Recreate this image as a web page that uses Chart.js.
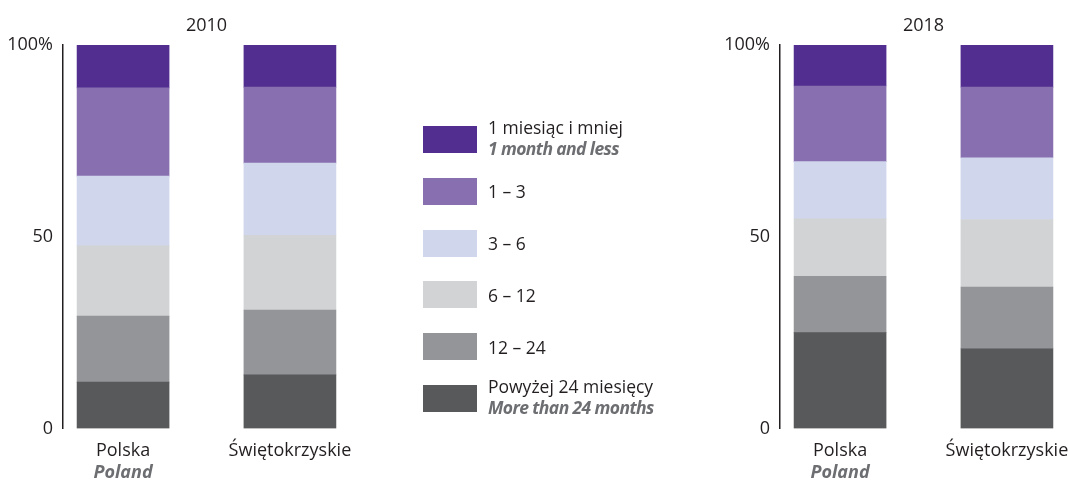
<!DOCTYPE html>
<html>
<head>
<meta charset="utf-8">
<script src="https://cdn.jsdelivr.net/npm/chart.js@4/dist/chart.umd.min.js"></script>
<style>
  html, body { margin: 0; padding: 0; background: #ffffff; }
  body { width: 1068px; height: 480px; position: relative; overflow: hidden; font-family: "Open Sans", sans-serif; }
  .chartbox { position: absolute; top: 0; height: 480px; }
  #legend { position: absolute; left: 423px; top: 126px; }
  .item { position: absolute; left: 0; width: 300px; height: 27px; }
  .swatch { position: absolute; left: 0; top: 0; width: 54px; height: 27px; }
  .txt { position: absolute; left: 65px; top: 50%; transform: translateY(-50%); font-size: 17.5px; line-height: 21px; color: #231f20; white-space: nowrap; }
  .txt i { display: block; font-style: italic; font-weight: 700; color: #6d6e71; letter-spacing: -0.6px; }
</style>
</head>
<body>
<div class="chartbox" style="left:0px;width:380px"><canvas id="c2010" width="380" height="480"></canvas></div>
<div class="chartbox" style="left:717px;width:351px"><canvas id="c2018" width="351" height="480"></canvas></div>
<div id="legend"></div>
<script>
// ---- data (shares in %, listed from top segment to bottom segment) ----
const periodsPl = ['1 miesiąc i mniej', '1 – 3', '3 – 6', '6 – 12', '12 – 24', 'Powyżej 24 miesięcy'];
const periodsEn = ['1 month and less', '', '', '', '', 'More than 24 months'];
const periodColors = ['#522e91', '#8870b0', '#d0d6eb', '#d1d3d4', '#939598', '#58595b'];
const regionsPl = ['Polska', 'Świętokrzyskie'];
const regionsEn = ['Poland', ''];
const years = ['2010', '2018'];
const yTickLabels = { 0: '0', 50: '50', 100: '100%' };

const polska2010 = [11.2, 23.0, 18.2, 18.3, 17.2, 12.1];
const swietokrzyskie2010 = [11.0, 19.8, 18.8, 19.5, 16.9, 14.0];
const polska2018 = [10.7, 19.7, 14.9, 15.0, 14.7, 25.0];
const swietokrzyskie2018 = [11.0, 18.4, 16.1, 17.6, 16.1, 20.8];

const FONT = '"Open Sans", sans-serif';
const TXT = '#231f20';
const GRAY = '#6d6e71';

function buildDatasets(polska, swiet) {
  // bottom segment first so it stacks at the bottom
  const ds = [];
  for (let i = periodsPl.length - 1; i >= 0; i--) {
    ds.push({
      label: periodsPl[i],
      data: [{ x: 1, y: polska[i] }, { x: 2, y: swiet[i] }],
      backgroundColor: periodColors[i],
      borderWidth: 0,
      barThickness: 92
    });
  }
  return ds;
}

const labelsPlugin = {
  id: 'labelsPlugin',
  afterDraw(chart) {
    const ctx = chart.ctx;
    const xs = chart.scales.x;
    const year = chart.options.plugins.labelsPlugin.year;
    ctx.save();
    ctx.textAlign = 'center';
    ctx.textBaseline = 'alphabetic';
    const cx = (xs.getPixelForValue(1) + xs.getPixelForValue(2)) / 2;
    ctx.fillStyle = TXT;
    ctx.font = '18px ' + FONT;
    ctx.fillText(year, cx, 31);
    regionsPl.forEach((r, i) => {
      const px = xs.getPixelForValue(i + 1);
      ctx.fillStyle = TXT;
      ctx.font = '18px ' + FONT;
      ctx.fillText(r, px, 456);
      if (regionsEn[i]) {
        ctx.fillStyle = GRAY;
        ctx.font = 'italic 700 18px ' + FONT;
        ctx.fillText(regionsEn[i], px, 478);
      }
    });
    ctx.restore();
  }
};

function makeChart(id, year, polska, swiet, padRight) {
  return new Chart(document.getElementById(id), {
    type: 'bar',
    data: { datasets: buildDatasets(polska, swiet) },
    options: {
      responsive: false,
      animation: false,
      layout: { padding: { top: 45, bottom: 51.5, left: 0, right: padRight } },
      plugins: {
        legend: { display: false },
        title: { display: false },
        tooltip: { enabled: false },
        labelsPlugin: { year: year }
      },
      scales: {
        x: {
          type: 'linear',
          stacked: true,
          offset: false,
          min: 0.64,
          max: 2.36,
          display: false
        },
        y: {
          stacked: true,
          min: 0,
          max: 100,
          grid: { display: false, drawTicks: false },
          border: { display: true, color: TXT, width: 1.5 },
          ticks: {
            stepSize: 50,
            padding: 10,
            color: TXT,
            font: { family: FONT, size: 18 },
            callback: (v) => yTickLabels[v] !== undefined ? yTickLabels[v] : ''
          },
          afterFit(scale) { scale.width = 63; }
        }
      }
    },
    plugins: [labelsPlugin]
  });
}

makeChart('c2010', years[0], polska2010, swietokrzyskie2010, 30);
makeChart('c2018', years[1], polska2018, swietokrzyskie2018, 1);

const legend = document.getElementById('legend');
periodsPl.forEach((p, i) => {
  const item = document.createElement('div');
  item.className = 'item';
  item.style.top = (i * 51.8) + 'px';
  const sw = document.createElement('div');
  sw.className = 'swatch';
  sw.style.background = periodColors[i];
  item.appendChild(sw);
  const t = document.createElement('div');
  t.className = 'txt';
  t.textContent = p;
  if (periodsEn[i]) {
    const en = document.createElement('i');
    en.textContent = periodsEn[i];
    t.appendChild(en);
    t.style.marginTop = '-2px';
  }
  item.appendChild(t);
  legend.appendChild(item);
});
</script>
</body>
</html>
